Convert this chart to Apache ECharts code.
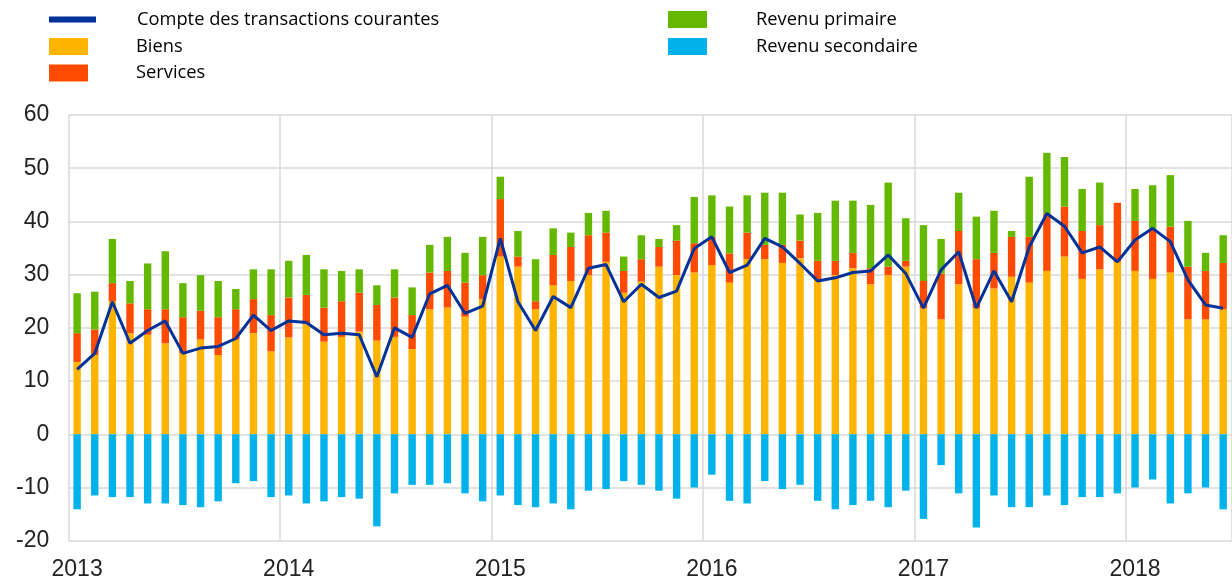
<!DOCTYPE html>
<html>
<head>
<meta charset="utf-8">
<script src="https://cdn.jsdelivr.net/npm/echarts@6/dist/echarts.min.js"></script>
<style>
html,body{margin:0;padding:0;background:#fff;}
#chart{width:1232px;height:582px;}
</style>
</head>
<body>
<div id="chart"></div>
<script>
// Tick labels (years) and months
const yearLabels = ['2013', '2014', '2015', '2016', '2017', '2018'];
const monthCodes = ['01','02','03','04','05','06','07','08','09','10','11','12'];
const lastYearMonths = 6;

// Categories: monthly, Jan 2013 .. Jun 2018
const categories = [];
yearLabels.forEach((y, yi) => {
  const n = yi === yearLabels.length - 1 ? lastYearMonths : 12;
  for (let m = 0; m < n; m++) categories.push(y + '-' + monthCodes[m]);
});

// Series names
const seriesNames = ['Compte des transactions courantes', 'Biens', 'Services', 'Revenu primaire', 'Revenu secondaire'];

// Current account (line)
const compte = [
  12.2, 15.2, 24.9, 17.1, 19.5, 21.3, 15.2, 16.2, 16.5, 18.0, 22.4, 19.5,
  21.3, 21.0, 18.7, 19.0, 18.7, 10.8, 20.0, 18.2, 26.4, 28.0, 22.7, 24.1,
  36.8, 24.9, 19.5, 25.9, 23.8, 31.2, 31.9, 24.9, 28.2, 25.7, 26.9, 34.9,
  37.1, 30.4, 31.8, 36.8, 35.2, 32.1, 28.8, 29.4, 30.4, 30.7, 33.7, 30.2,
  23.7, 30.9, 34.3, 23.7, 30.7, 24.9, 35.2, 41.5, 39.1, 34.1, 35.2, 32.4,
  36.5, 38.7, 36.2, 29.0, 24.3, 23.7
];

// Goods
const biens = [
  13.6, 14.9, 25.0, 19.0, 18.7, 17.1, 15.2, 17.8, 14.9, 17.8, 19.0, 15.6,
  18.2, 20.7, 17.4, 18.3, 19.3, 17.6, 18.3, 16.0, 23.5, 23.8, 22.1, 25.4,
  33.4, 31.5, 23.5, 28.0, 28.8, 29.9, 32.4, 26.6, 28.7, 31.5, 29.9, 30.4,
  31.8, 28.5, 32.9, 32.9, 32.2, 33.1, 29.0, 29.9, 31.2, 28.2, 29.9, 31.5,
  23.7, 21.6, 28.2, 23.7, 27.4, 29.6, 28.5, 30.7, 33.4, 29.2, 31.0, 32.4,
  30.7, 29.2, 30.4, 21.6, 21.6, 23.5
];

// Services
const services = [
  5.4, 4.8, 3.4, 5.6, 4.8, 6.4, 6.8, 5.4, 7.1, 5.7, 6.4, 6.8,
  7.5, 5.5, 6.4, 6.7, 7.3, 6.7, 7.4, 6.4, 6.9, 6.9, 6.4, 4.5,
  10.8, 1.9, 1.5, 5.7, 6.4, 7.5, 5.5, 4.1, 4.2, 3.7, 6.5, 5.5,
  5.3, 5.5, 5.0, 2.7, 3.4, 3.3, 3.6, 2.7, 2.9, 3.0, 1.6, 1.1,
  5.1, 8.6, 10.0, 9.2, 6.7, 7.5, 8.6, 10.8, 9.4, 9.0, 8.3, 11.1,
  9.4, 9.5, 8.6, 9.9, 9.1, 8.7
];

// Primary income
const revenuPrimaire = [
  7.5, 7.1, 8.3, 4.2, 8.6, 10.9, 6.4, 6.7, 6.8, 3.8, 5.6, 8.6,
  6.9, 7.5, 7.2, 5.7, 4.4, 3.7, 5.3, 5.2, 5.2, 6.4, 5.6, 7.2,
  4.2, 4.8, 7.9, 5.0, 2.7, 4.2, 4.1, 2.7, 4.5, 1.5, 2.9, 8.7,
  7.8, 8.8, 7.0, 9.8, 9.8, 4.9, 9.0, 11.3, 9.8, 11.9, 15.8, 8.0,
  10.5, 6.5, 7.2, 8.0, 7.9, 1.1, 11.3, 11.4, 9.3, 7.9, 8.0, 0.0,
  6.0, 8.1, 9.7, 8.6, 3.4, 5.2
];

// Secondary income
const revenuSecondaire = [
  -14.1, -11.5, -11.8, -11.8, -13.0, -13.0, -13.3, -13.7, -12.6, -9.2, -8.8, -11.8,
  -11.5, -13.0, -12.6, -11.8, -12.1, -17.3, -11.1, -9.5, -9.5, -9.2, -11.1, -12.6,
  -11.5, -13.3, -13.7, -13.0, -14.1, -10.6, -10.3, -8.8, -9.5, -10.6, -12.1, -10.0,
  -7.6, -12.5, -13.0, -8.8, -10.3, -9.5, -12.5, -14.1, -13.3, -12.5, -13.7, -10.6,
  -15.9, -5.8, -11.1, -17.5, -11.5, -13.7, -13.7, -11.5, -13.3, -11.8, -11.8, -11.1,
  -10.0, -8.5, -13.0, -11.1, -10.0, -14.1
];

const yMin = -20, yMax = 60, yStep = 10;

const colors = {
  line: '#003299',
  biens: '#FFB400',
  services: '#FF4B00',
  primaire: '#65B800',
  secondaire: '#00B1EA'
};

const legendFont = { fontFamily: 'Open Sans', fontSize: 18.3, color: '#000', lineHeight: 22 };
function mkLegend(name, left, top, w, h, textPad) {
  return {
    data: [name], left: left, top: top, padding: 0,
    itemWidth: w, itemHeight: h, icon: 'rect',
    selectedMode: false,
    textStyle: Object.assign({ padding: textPad }, legendFont)
  };
}

const chart = echarts.init(document.getElementById('chart'), null, { renderer: 'canvas' });
const barW = 7.4;
const axisFont = { fontFamily: 'Liberation Sans', fontSize: 23, color: '#222' };
chart.setOption({
  animation: false,
  color: [colors.line, colors.biens, colors.services, colors.primaire, colors.secondaire],
  legend: [
    mkLegend(seriesNames[0], 49, 7, 47, 6, [3, 0, 0, 36]),
    mkLegend(seriesNames[1], 49, 34, 39, 17, [3, 0, 0, 43]),
    mkLegend(seriesNames[2], 49, 62, 39, 17, [0, 0, 0, 43]),
    mkLegend(seriesNames[3], 668, 7, 39, 17, [3, 0, 0, 44]),
    mkLegend(seriesNames[4], 668, 34, 39, 17, [3, 0, 0, 44])
  ],
  grid: { left: 68.3, top: 115, right: -5.8, bottom: 41.3, containLabel: false },
  xAxis: {
    type: 'category',
    data: categories,
    boundaryGap: true,
    axisLine: { show: false },
    axisTick: { show: false },
    axisLabel: Object.assign({
      interval: (i) => i % 12 === 0,
      formatter: (v) => v.slice(0, 4),
      margin: 17
    }, axisFont),
    splitLine: {
      show: true,
      interval: (i) => i % 12 === 0,
      lineStyle: { color: '#d9d9d9', width: 1.5 }
    }
  },
  yAxis: {
    type: 'value',
    min: yMin, max: yMax, interval: yStep,
    axisLine: { show: false },
    axisTick: { show: false },
    axisLabel: Object.assign({ margin: 19 }, axisFont),
    splitLine: { show: true, lineStyle: { color: '#d9d9d9', width: 1.5 } }
  },
  series: [
    { name: seriesNames[1], type: 'bar', stack: 'ca', data: biens, barWidth: barW, itemStyle: { color: colors.biens } },
    { name: seriesNames[2], type: 'bar', stack: 'ca', data: services, barWidth: barW, itemStyle: { color: colors.services } },
    { name: seriesNames[3], type: 'bar', stack: 'ca', data: revenuPrimaire, barWidth: barW, itemStyle: { color: colors.primaire } },
    { name: seriesNames[4], type: 'bar', stack: 'ca', data: revenuSecondaire, barWidth: barW, itemStyle: { color: colors.secondaire } },
    { name: seriesNames[0], type: 'line', data: compte, symbol: 'none', z: 5,
      lineStyle: { color: colors.line, width: 3 }, itemStyle: { color: colors.line } }
  ]
});
</script>
</body>
</html>
